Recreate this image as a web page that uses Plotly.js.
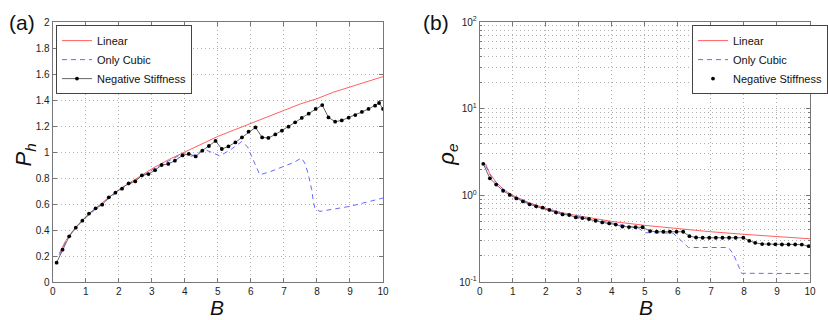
<!DOCTYPE html>
<html>
<head>
<meta charset="utf-8">
<script src="https://cdn.plot.ly/plotly-3.0.1.min.js"></script>
<style>
  html, body { margin: 0; padding: 0; background: #fff; }
  #chart { width: 828px; height: 320px; }
</style>
</head>
<body>
<div id="chart"></div>
<script>
/* ---- panel (a): harvested power P_h vs B ---- */
const LIN_A_B = [0.2, 0.4, 0.6, 0.8, 1, 1.5, 2, 2.5, 3, 3.5, 4, 4.5, 5, 5.5, 6, 6.5, 7, 7.5, 8, 8.5, 9, 9.5, 10];
const LIN_A_P = [0.22, 0.32, 0.39, 0.45, 0.5, 0.61, 0.71, 0.79, 0.87, 0.94, 1.0, 1.06, 1.12, 1.17, 1.22, 1.27, 1.32, 1.37, 1.41, 1.46, 1.5, 1.54, 1.58];

const CUB_A_B = [0.2, 0.4, 0.6, 0.8, 1, 1.5, 2, 2.5, 3, 3.5, 3.95, 4.2, 4.6, 5.06, 5.4, 5.72, 5.9, 6.05, 6.27, 6.6, 7.0, 7.3, 7.53, 7.63, 7.73, 7.84, 7.89, 7.94, 8.09, 9.0, 10];
const CUB_A_P = [0.21, 0.31, 0.385, 0.445, 0.495, 0.605, 0.7, 0.78, 0.86, 0.93, 0.99, 0.966, 1.02, 0.97, 1.02, 1.08, 1.04, 0.95, 0.825, 0.85, 0.889, 0.92, 0.954, 0.915, 0.838, 0.71, 0.62, 0.564, 0.543, 0.582, 0.646];

const NEG_A_B = [0.12, 0.3, 0.5, 0.7, 0.9, 1.1, 1.3, 1.5, 1.7, 1.9, 2.1, 2.3, 2.5, 2.7, 2.9, 3.1, 3.3, 3.5, 3.7,
  3.93, 4.12, 4.33, 4.53, 4.73, 4.93, 5.12, 5.32, 5.53, 5.73, 5.93, 6.14, 6.34, 6.53, 6.74, 6.94, 7.14, 7.34,
  7.54, 7.75, 7.96, 8.16, 8.35, 8.55, 8.75, 8.96, 9.16, 9.36, 9.56, 9.76, 9.88, 10];
const NEG_A_P = [0.149, 0.249, 0.351, 0.418, 0.472, 0.526, 0.567, 0.595, 0.651, 0.687, 0.718, 0.759, 0.774, 0.82, 0.83, 0.86, 0.9, 0.908, 0.933,
  0.974, 0.985, 0.966, 1.01, 1.046, 1.085, 1.023, 1.043, 1.074, 1.112, 1.156, 1.189, 1.112, 1.108, 1.135, 1.164, 1.195, 1.228,
  1.262, 1.295, 1.331, 1.361, 1.266, 1.233, 1.243, 1.264, 1.284, 1.308, 1.331, 1.356, 1.377, 1.331];

/* ---- panel (b): rho_e vs B (log) ---- */
const LIN_B_B = [0.18, 0.3, 0.5, 0.75, 1, 1.5, 2, 2.5, 3, 3.5, 4, 5, 6, 7, 8, 9, 10];
const LIN_B_R = [2.3, 1.8, 1.41, 1.15, 1.0, 0.82, 0.71, 0.63, 0.58, 0.535, 0.5, 0.45, 0.41, 0.38, 0.355, 0.335, 0.315];

const CUB_B_B = [0.18, 0.3, 0.5, 0.75, 1, 1.5, 2, 2.5, 3, 3.5, 4, 4.5, 4.8, 5.0, 5.5, 5.86, 6.1, 6.32, 7.0, 7.53, 7.68, 7.93, 8.1, 10];
const CUB_B_R = [2.2, 1.75, 1.4, 1.14, 0.99, 0.81, 0.7, 0.62, 0.57, 0.52, 0.48, 0.44, 0.42, 0.37, 0.37, 0.365, 0.3, 0.25, 0.25, 0.25, 0.21, 0.126, 0.126, 0.125];

const NEG_B_B = [0.11, 0.31, 0.5, 0.71, 0.91, 1.11, 1.31, 1.51, 1.71, 1.91, 2.11, 2.31, 2.51, 2.71, 2.91, 3.11, 3.31, 3.51, 3.71,
  3.92, 4.12, 4.32, 4.52, 4.72, 4.93, 5.16, 5.36, 5.56, 5.76, 5.96, 6.16, 6.35, 6.55, 6.75, 6.95, 7.15, 7.35, 7.55, 7.75,
  7.98, 8.16, 8.34, 8.55, 8.75, 8.95, 9.15, 9.35, 9.55, 9.75, 9.96];
const NEG_B_R = [2.31, 1.57, 1.33, 1.13, 1.01, 0.92, 0.851, 0.787, 0.746, 0.72, 0.678, 0.635, 0.602, 0.593, 0.556, 0.547, 0.533, 0.509, 0.487,
  0.474, 0.46, 0.437, 0.43, 0.428, 0.428, 0.387, 0.38, 0.38, 0.38, 0.38, 0.38, 0.338, 0.326, 0.324, 0.324, 0.324, 0.324, 0.324, 0.324,
  0.324, 0.299, 0.283, 0.274, 0.274, 0.272, 0.271, 0.271, 0.271, 0.27, 0.259];

const LOG_TICKS = [0.1, 1, 10, 100];
const LOG_TICKTEXT = ['10<sup>-1</sup>', '10<sup>0</sup>', '10<sup>1</sup>', '10<sup>2</sup>'];
const LOG_MINOR = [0.2, 0.3, 0.4, 0.5, 0.6, 0.7, 0.8, 0.9, 2, 3, 4, 5, 6, 7, 8, 9, 20, 30, 40, 50, 60, 70, 80, 90];

/* ---- styles ---- */
const RED = 'rgb(255,95,95)';
const BLUE = 'rgb(105,105,255)';
const FONT = 'Liberation Sans, Arial, sans-serif';
const GRID_DASH = '1px,3px';

const AXIS_BASE = {
  range: [0, 10], dtick: 1,
  showline: true, linecolor: '#777', linewidth: 1, mirror: 'allticks',
  ticks: 'inside', ticklen: 4, tickcolor: '#777',
  showgrid: true, gridcolor: '#b0b0b0', griddash: GRID_DASH, gridwidth: 1,
  zeroline: false, automargin: false,
  tickfont: { family: FONT, size: 10, color: '#222' },
};

const traces = [
  { x: LIN_A_B, y: LIN_A_P, type: 'scatter', mode: 'lines', name: 'Linear',
    line: { color: RED, width: 1 }, xaxis: 'x', yaxis: 'y', legend: 'legend' },
  { x: CUB_A_B, y: CUB_A_P, type: 'scatter', mode: 'lines', name: 'Only Cubic',
    line: { color: BLUE, width: 1, dash: '5px,4px' }, xaxis: 'x', yaxis: 'y', legend: 'legend' },
  { x: NEG_A_B, y: NEG_A_P, type: 'scatter', mode: 'lines+markers', name: 'Negative Stiffness',
    line: { color: '#666', width: 1 }, marker: { color: '#000', size: 3.8 },
    xaxis: 'x', yaxis: 'y', legend: 'legend' },

  { x: LIN_B_B, y: LIN_B_R, type: 'scatter', mode: 'lines', name: 'Linear',
    line: { color: RED, width: 1 }, xaxis: 'x2', yaxis: 'y2', legend: 'legend2' },
  { x: CUB_B_B, y: CUB_B_R, type: 'scatter', mode: 'lines', name: 'Only Cubic',
    line: { color: BLUE, width: 1, dash: '5px,4px' }, xaxis: 'x2', yaxis: 'y2', legend: 'legend2' },
  { x: NEG_B_B, y: NEG_B_R, type: 'scatter', mode: 'lines', showlegend: false,
    line: { color: '#666', width: 1 }, xaxis: 'x2', yaxis: 'y2' },
  { x: NEG_B_B, y: NEG_B_R, type: 'scatter', mode: 'markers', name: 'Negative Stiffness',
    marker: { color: '#000', size: 3.8 }, xaxis: 'x2', yaxis: 'y2', legend: 'legend2' },
];

const LEGEND_BASE = {
  xanchor: 'left', yanchor: 'top', bgcolor: '#fff',
  bordercolor: '#444', borderwidth: 1,
  font: { family: FONT, size: 11, color: '#111' },
  tracegroupgap: 0, itemwidth: 30,
};

const TITLE_FONT = { family: FONT, size: 22, color: '#111' };
const XTITLE_FONT = { family: FONT, size: 21, color: '#111' };

// axis titles as annotations so they sit where the reference has them
function axisNote(text, x, y, angle, font) {
  return { text, xref: 'paper', yref: 'paper', x, y, textangle: angle, borderpad: 0,
    xanchor: 'center', yanchor: 'middle', showarrow: false, font };
}

const layout = {
  width: 828, height: 320,
  margin: { l: 0, r: 0, t: 22, b: 38 },
  paper_bgcolor: '#fff', plot_bgcolor: '#fff',
  font: { family: FONT, color: '#222' },
  showlegend: true,
  xaxis: { ...AXIS_BASE, domain: [0.0636, 0.4626], anchor: 'y' },
  yaxis: { ...AXIS_BASE, range: [0, 2], dtick: 0.2, anchor: 'x' },
  xaxis2: { ...AXIS_BASE, domain: [0.5793, 0.9783], anchor: 'y2' },
  yaxis2: { ...AXIS_BASE, type: 'log', range: [-1, 2], anchor: 'x2',
    tickmode: 'array', tickvals: LOG_TICKS, ticktext: LOG_TICKTEXT,
    minor: { tickmode: 'array', tickvals: LOG_MINOR, ticks: 'inside', ticklen: 2, tickcolor: '#777',
      showgrid: true, gridcolor: '#b0b0b0', griddash: GRID_DASH, gridwidth: 1 } },
  legend: { ...LEGEND_BASE, x: 0.0676, y: 0.988 },
  legend2: { ...LEGEND_BASE, x: 0.836, y: 0.988 },
  annotations: [
    { text: '(a)', xref: 'paper', yref: 'paper', x: 0.008, y: 1.0, xanchor: 'left', yanchor: 'middle',
      showarrow: false, font: { family: FONT, size: 21, color: '#111' } },
    { text: '(b)', xref: 'paper', yref: 'paper', x: 0.508, y: 1.0, xanchor: 'left', yanchor: 'middle',
      showarrow: false, font: { family: FONT, size: 21, color: '#111' } },
    axisNote('<i>P<sub>h</sub></i>', 0.030, 0.49, -90, TITLE_FONT),
    axisNote('<i>ρ<sub>e</sub></i>', 0.540, 0.49, -90, TITLE_FONT),
    axisNote('<i>B</i>', 0.262, -0.098, 0, XTITLE_FONT),
    axisNote('<i>B</i>', 0.780, -0.098, 0, XTITLE_FONT),
  ],
};

Plotly.newPlot('chart', traces, layout, { staticPlot: true, displayModeBar: false });
</script>
</body>
</html>
